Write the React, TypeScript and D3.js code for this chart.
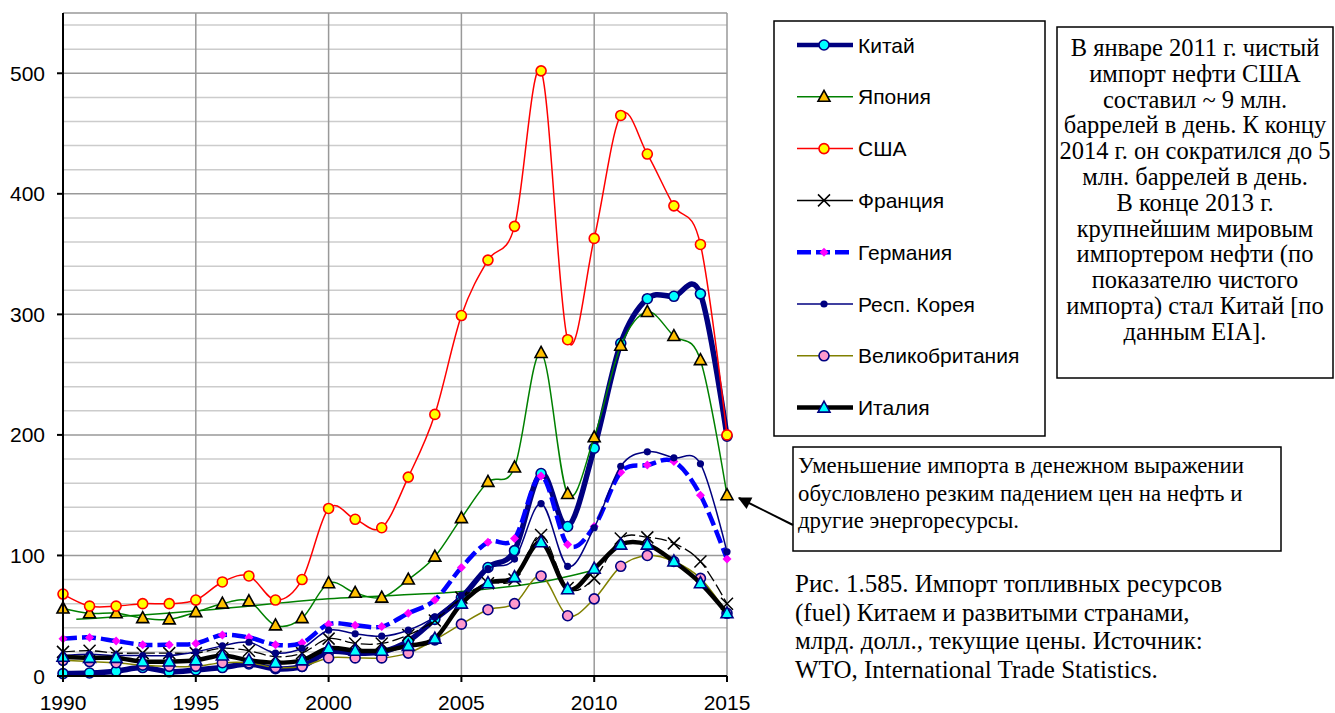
import React from "react";
import * as d3 from "d3";

const width = 1335;
const height = 713;

const years = d3.range(1990, 2016);
const yTicks = [0, 100, 200, 300, 400, 500];
const xTicks = [1990, 1995, 2000, 2005, 2010, 2015];

const china = [2, 2.5, 4, 7, 3.5, 5, 7, 10, 6, 8, 20, 19, 20, 29, 47, 65, 90, 104, 168, 124, 189, 276, 313, 315, 317, 199];
const japan = [56, 52, 52, 48, 47, 53, 60, 62, 42, 48, 77, 69, 65, 80, 99, 131, 161, 173, 268, 151, 198, 274, 302, 282, 262, 150];
const usa = [68, 58, 58, 60, 60, 63, 78, 83, 63, 80, 139, 130, 123, 165, 217, 299, 345, 373, 502, 279, 363, 465, 433, 390, 358, 200];
const france = [20, 21, 19, 19, 19, 19, 23, 21, 16, 19, 31, 27, 27, 34, 46, 65, 77, 80, 117, 73, 81, 114, 115, 110, 95, 60];
const germany = [31, 32, 29, 26, 26, 27, 34, 32, 26, 27.5, 43, 42, 41, 52, 63, 90, 111, 114, 166, 109, 124, 169, 175, 178, 150, 97];
const korea = [17, 18, 17, 17, 17, 20, 25, 28, 19, 23, 38, 35, 33, 38, 49, 67, 89, 97, 143, 91, 123, 174, 186, 181, 176, 103];
const uk = [13, 12, 11, 9, 8, 8, 11, 11, 7, 8, 15, 15, 15, 19, 30, 43, 55, 60, 83, 50, 64, 91, 100, 95, 81, 52];
const italy = [16, 15, 15, 12, 12, 13, 17, 13, 11, 13, 23, 21, 21, 25, 31, 60, 77, 82, 111, 72, 89, 109, 109, 95, 77, 52];

// the thin green line that runs under the series from 1990 to 2010
const trendYears = [1990.5, 1995, 2000, 2005, 2008, 2010];
const trendValues = [47, 54, 64, 70, 78, 88];

const noteLines = [
  "В январе 2011 г. чистый",
  "импорт нефти США",
  "составил ~ 9 млн.",
  "баррелей в день. К концу",
  "2014 г. он сократился до 5",
  "млн. баррелей в день.",
  "В конце 2013 г.",
  "крупнейшим мировым",
  "импортером нефти (по",
  "показателю чистого",
  "импорта) стал Китай [по",
  "данным EIA].",
];
const arrowLines = [
  "Уменьшение импорта в денежном выражении",
  "обусловлено резким падением цен на нефть и",
  "другие энергоресурсы.",
];
const captionLines = [
  "Рис. 1.585. Импорт топливных ресурсов",
  "(fuel) Китаем и развитыми странами,",
  "млрд. долл., текущие цены. Источник:",
  "WTO, International Trade Statistics.",
];

const series = [
  { name: "Китай", values: china, color: "#000080", lw: 5.5, dash: "", marker: "circle", fill: "#00FFFF", mstroke: "#000080" },
  { name: "Япония", values: japan, color: "#008000", lw: 1.5, dash: "", marker: "triangle", fill: "#FFC000", mstroke: "#000000" },
  { name: "США", values: usa, color: "#FF0000", lw: 1.5, dash: "", marker: "circle", fill: "#FFFF00", mstroke: "#FF0000" },
  { name: "Франция", values: france, color: "#000000", lw: 1.3, dash: "12 4", marker: "x", fill: "none", mstroke: "#000000" },
  { name: "Германия", values: germany, color: "#0000FF", lw: 4.5, dash: "14 5", marker: "diamond", fill: "#FF00FF", mstroke: "none" },
  { name: "Респ. Корея", values: korea, color: "#000080", lw: 1.5, dash: "", marker: "dot", fill: "#000080", mstroke: "none" },
  { name: "Великобритания", values: uk, color: "#808000", lw: 1.5, dash: "", marker: "circle", fill: "#FF99CC", mstroke: "#000080" },
  { name: "Италия", values: italy, color: "#000000", lw: 4.5, dash: "", marker: "triangle", fill: "#00FFFF", mstroke: "#000080" },
];

const x = d3.scaleLinear().domain([1990, 2015]).range([63, 727]);
const y = d3.scaleLinear().domain([0, 550]).range([676, 13]);

function Marker({ type, fill, stroke, cx, cy }) {
  if (type === "circle")
    return <circle cx={cx} cy={cy} r={5} fill={fill} stroke={stroke} strokeWidth={1.6} />;
  if (type === "dot") return <circle cx={cx} cy={cy} r={3.6} fill={fill} />;
  if (type === "triangle")
    return (
      <path
        d={`M${cx},${cy - 6.5}L${cx + 6},${cy + 4.5}L${cx - 6},${cy + 4.5}Z`}
        fill={fill}
        stroke={stroke}
        strokeWidth={1.6}
      />
    );
  if (type === "diamond")
    return <path d={`M${cx},${cy - 4.5}L${cx + 4.5},${cy}L${cx},${cy + 4.5}L${cx - 4.5},${cy}Z`} fill={fill} />;
  return (
    <path d={`M${cx - 6},${cy - 6}L${cx + 6},${cy + 6}M${cx + 6},${cy - 6}L${cx - 6},${cy + 6}`} stroke={stroke} strokeWidth={1.5} />
  );
}

export default function App() {
  const line = d3
    .line<number>()
    .x((d, i) => x(years[i]))
    .y((d) => y(d))
    .curve(d3.curveCatmullRom.alpha(0));
  const trendLine = d3
    .line<number>()
    .x((d, i) => x(trendYears[i]))
    .y((d) => y(d))
    .curve(d3.curveCatmullRom.alpha(0.5));

  const minor = d3.range(20, 551, 20).filter((v) => v % 100 !== 0);
  const sans = "'Liberation Sans', Arial, sans-serif";
  const serif = "'Liberation Serif', 'Times New Roman', serif";

  return (
    <svg width={width} height={height} style={{ position: "absolute", left: 0, top: 0, background: "#fff" }}>
      <defs>
        <marker id="arrowHead" viewBox="0 0 10 10" refX={9} refY={5} markerWidth={16} markerHeight={13} markerUnits="userSpaceOnUse" orient="auto">
          <path d="M0,0L10,5L0,10Z" fill="#000" />
        </marker>
      </defs>

      {/* grid */}
      <g>
        {minor.map((v) => (
          <line key={"m" + v} x1={x(1990)} x2={x(2015)} y1={y(v)} y2={y(v)} stroke="#cccccc" strokeWidth={1.5} />
        ))}
        {yTicks.concat([550]).map((v) => (
          <line key={"M" + v} x1={x(1990)} x2={x(2015)} y1={y(v)} y2={y(v)} stroke="#999999" strokeWidth={1.5} />
        ))}
        {xTicks.map((t) => (
          <line key={"v" + t} x1={x(t)} x2={x(t)} y1={y(0)} y2={y(550)} stroke="#999999" strokeWidth={1.5} />
        ))}
      </g>

      {/* series */}
      <path d={trendLine(trendValues) || ""} fill="none" stroke="#008000" strokeWidth={1.5} />
      {series.map((s) => (
        <g key={s.name}>
          <path d={line(s.values) || ""} fill="none" stroke={s.color} strokeWidth={s.lw} strokeDasharray={s.dash} strokeLinejoin="round" />
          {s.values.map((v, i) => (
            <Marker key={i} type={s.marker} fill={s.fill} stroke={s.mstroke} cx={x(years[i])} cy={y(v)} />
          ))}
        </g>
      ))}

      {/* axes */}
      <g fontFamily={sans} fontSize={21} fill="#000">
        <line x1={x(1990)} x2={x(1990)} y1={y(0)} y2={y(550)} stroke="#000" strokeWidth={2} />
        <line x1={x(1990)} x2={x(2015)} y1={y(0)} y2={y(0)} stroke="#000" strokeWidth={2} />
        {yTicks.map((v) => (
          <g key={v}>
            <line x1={x(1990) - 6} x2={x(1990)} y1={y(v)} y2={y(v)} stroke="#000" strokeWidth={2} />
            <text x={x(1990) - 18} y={y(v) + 7.5} textAnchor="end">
              {v}
            </text>
          </g>
        ))}
        {xTicks.map((t) => (
          <g key={t}>
            <line x1={x(t)} x2={x(t)} y1={y(0)} y2={y(0) + 6} stroke="#000" strokeWidth={2} />
            <text x={x(t)} y={710} textAnchor="middle">
              {t}
            </text>
          </g>
        ))}
      </g>

      {/* legend */}
      <rect x={774} y={21} width={271} height={415} fill="#fff" stroke="#000" strokeWidth={1.5} />
      {series.map((s, i) => {
        const ly = 45 + i * 51.8;
        return (
          <g key={"lg" + s.name}>
            <line x1={797} x2={853} y1={ly} y2={ly} stroke={s.color} strokeWidth={s.lw > 3 ? 4.5 : 1.5} strokeDasharray={s.marker === "diamond" ? "14 5" : ""} />
            <Marker type={s.marker} fill={s.fill} stroke={s.mstroke} cx={824} cy={ly} />
            <text x={858} y={ly + 7.5} fontFamily={sans} fontSize={21}>
              {s.name}
            </text>
          </g>
        );
      })}

      {/* note box */}
      <rect x={1057} y={27} width={276} height={351} fill="#fff" stroke="#000" strokeWidth={1.5} />
      <g fontFamily={serif} fontSize={24.5} textAnchor="middle">
        {noteLines.map((t, i) => (
          <text key={i} x={1195} y={56 + i * 25.8}>
            {t}
          </text>
        ))}
      </g>

      {/* arrow box */}
      <rect x={793} y={447} width={488} height={104} fill="#fff" stroke="#000" strokeWidth={1.5} />
      <g fontFamily={serif} fontSize={22.8}>
        {arrowLines.map((t, i) => (
          <text key={i} x={798} y={473 + i * 27.7}>
            {t}
          </text>
        ))}
      </g>
      <line x1={793} y1={525} x2={739} y2={498} stroke="#000" strokeWidth={2} markerEnd="url(#arrowHead)" />

      {/* caption */}
      <g fontFamily={serif} fontSize={25}>
        {captionLines.map((t, i) => (
          <text key={i} x={795} y={592 + i * 28.7}>
            {t}
          </text>
        ))}
      </g>
    </svg>
  );
}
